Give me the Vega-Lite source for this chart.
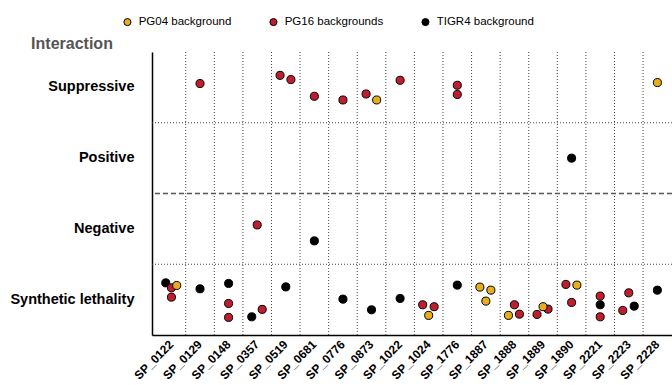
{
  "$schema": "https://vega.github.io/schema/vega-lite/v6.json",
  "width": 520,
  "height": 283,
  "autosize": {"type": "none"},
  "padding": {"left": 152, "top": 52, "right": 0, "bottom": 50},
  "config": {
    "font": "Liberation Sans",
    "view": {"stroke": null},
    "axisX": {"grid": false, "ticks": false, "domainColor": "black", "domainWidth": 1.5, "labelAngle": -45, "labelAlign": "right", "labelBaseline": "middle", "labelPadding": 7, "labelFontSize": 12, "labelFontWeight": "bold", "labelColor": "black", "labelOverlap": false},
    "axisY": {"titleAngle": 0, "titleAlign": "center", "titleBaseline": "middle", "titleX": -80.5, "titleY": -8.7, "titleFontSize": 16, "titleFontWeight": "bold", "titleColor": "#555555", "grid": false, "ticks": false, "domainColor": "black", "domainWidth": 1.5, "labelFontSize": 14.5, "labelFontWeight": "bold", "labelColor": "black", "labelPadding": 18}
  },
  "data": {
    "values": [
      {"gene": "SP_1890", "interaction": "Positive", "strain": "TIGR4 background", "jx": 0, "jy": 0},
      {"gene": "SP_0681", "interaction": "Negative", "strain": "TIGR4 background", "jx": 0, "jy": 0.17},
      {"gene": "SP_0122", "interaction": "Synthetic lethality", "strain": "TIGR4 background", "jx": -0.2, "jy": -0.237},
      {"gene": "SP_0129", "interaction": "Synthetic lethality", "strain": "TIGR4 background", "jx": 0, "jy": -0.153},
      {"gene": "SP_0148", "interaction": "Synthetic lethality", "strain": "TIGR4 background", "jx": 0, "jy": -0.229},
      {"gene": "SP_0357", "interaction": "Synthetic lethality", "strain": "TIGR4 background", "jx": -0.19, "jy": 0.243},
      {"gene": "SP_0519", "interaction": "Synthetic lethality", "strain": "TIGR4 background", "jx": 0, "jy": -0.18},
      {"gene": "SP_0776", "interaction": "Synthetic lethality", "strain": "TIGR4 background", "jx": 0, "jy": -0.007},
      {"gene": "SP_0873", "interaction": "Synthetic lethality", "strain": "TIGR4 background", "jx": 0, "jy": 0.144},
      {"gene": "SP_1022", "interaction": "Synthetic lethality", "strain": "TIGR4 background", "jx": 0, "jy": -0.017},
      {"gene": "SP_1776", "interaction": "Synthetic lethality", "strain": "TIGR4 background", "jx": 0, "jy": -0.205},
      {"gene": "SP_2221", "interaction": "Synthetic lethality", "strain": "TIGR4 background", "jx": 0, "jy": 0.073},
      {"gene": "SP_2223", "interaction": "Synthetic lethality", "strain": "TIGR4 background", "jx": 0.19, "jy": 0.092},
      {"gene": "SP_2228", "interaction": "Synthetic lethality", "strain": "TIGR4 background", "jx": 0, "jy": -0.134},
      {"gene": "SP_0129", "interaction": "Suppressive", "strain": "PG16 backgrounds", "jx": 0, "jy": -0.054},
      {"gene": "SP_0519", "interaction": "Suppressive", "strain": "PG16 backgrounds", "jx": -0.2, "jy": -0.17},
      {"gene": "SP_0519", "interaction": "Suppressive", "strain": "PG16 backgrounds", "jx": 0.18, "jy": -0.11},
      {"gene": "SP_0681", "interaction": "Suppressive", "strain": "PG16 backgrounds", "jx": 0, "jy": 0.126},
      {"gene": "SP_0776", "interaction": "Suppressive", "strain": "PG16 backgrounds", "jx": 0, "jy": 0.178},
      {"gene": "SP_0873", "interaction": "Suppressive", "strain": "PG16 backgrounds", "jx": -0.19, "jy": 0.093},
      {"gene": "SP_1022", "interaction": "Suppressive", "strain": "PG16 backgrounds", "jx": 0, "jy": -0.1},
      {"gene": "SP_1776", "interaction": "Suppressive", "strain": "PG16 backgrounds", "jx": 0, "jy": -0.03},
      {"gene": "SP_1776", "interaction": "Suppressive", "strain": "PG16 backgrounds", "jx": 0, "jy": 0.1},
      {"gene": "SP_0357", "interaction": "Negative", "strain": "PG16 backgrounds", "jx": 0, "jy": -0.056},
      {"gene": "SP_0122", "interaction": "Synthetic lethality", "strain": "PG16 backgrounds", "jx": 0, "jy": -0.167},
      {"gene": "SP_0122", "interaction": "Synthetic lethality", "strain": "PG16 backgrounds", "jx": 0, "jy": -0.035},
      {"gene": "SP_0148", "interaction": "Synthetic lethality", "strain": "PG16 backgrounds", "jx": 0, "jy": 0.054},
      {"gene": "SP_0148", "interaction": "Synthetic lethality", "strain": "PG16 backgrounds", "jx": 0, "jy": 0.251},
      {"gene": "SP_0357", "interaction": "Synthetic lethality", "strain": "PG16 backgrounds", "jx": 0.175, "jy": 0.138},
      {"gene": "SP_1024", "interaction": "Synthetic lethality", "strain": "PG16 backgrounds", "jx": -0.21, "jy": 0.073},
      {"gene": "SP_1024", "interaction": "Synthetic lethality", "strain": "PG16 backgrounds", "jx": 0.19, "jy": 0.1},
      {"gene": "SP_1888", "interaction": "Synthetic lethality", "strain": "PG16 backgrounds", "jx": 0, "jy": 0.073},
      {"gene": "SP_1888", "interaction": "Synthetic lethality", "strain": "PG16 backgrounds", "jx": 0.175, "jy": 0.205},
      {"gene": "SP_1889", "interaction": "Synthetic lethality", "strain": "PG16 backgrounds", "jx": -0.21, "jy": 0.209},
      {"gene": "SP_1889", "interaction": "Synthetic lethality", "strain": "PG16 backgrounds", "jx": 0.175, "jy": 0.134},
      {"gene": "SP_1890", "interaction": "Synthetic lethality", "strain": "PG16 backgrounds", "jx": -0.2, "jy": -0.215},
      {"gene": "SP_1890", "interaction": "Synthetic lethality", "strain": "PG16 backgrounds", "jx": 0, "jy": 0.04},
      {"gene": "SP_2221", "interaction": "Synthetic lethality", "strain": "PG16 backgrounds", "jx": 0, "jy": -0.05},
      {"gene": "SP_2221", "interaction": "Synthetic lethality", "strain": "PG16 backgrounds", "jx": 0, "jy": 0.243},
      {"gene": "SP_2223", "interaction": "Synthetic lethality", "strain": "PG16 backgrounds", "jx": -0.21, "jy": 0.153},
      {"gene": "SP_2223", "interaction": "Synthetic lethality", "strain": "PG16 backgrounds", "jx": 0, "jy": -0.096},
      {"gene": "SP_0873", "interaction": "Suppressive", "strain": "PG04 background", "jx": 0.18, "jy": 0.178},
      {"gene": "SP_2228", "interaction": "Suppressive", "strain": "PG04 background", "jx": 0, "jy": -0.068},
      {"gene": "SP_0122", "interaction": "Synthetic lethality", "strain": "PG04 background", "jx": 0.185, "jy": -0.2},
      {"gene": "SP_1024", "interaction": "Synthetic lethality", "strain": "PG04 background", "jx": 0, "jy": 0.223},
      {"gene": "SP_1887", "interaction": "Synthetic lethality", "strain": "PG04 background", "jx": -0.21, "jy": -0.177},
      {"gene": "SP_1887", "interaction": "Synthetic lethality", "strain": "PG04 background", "jx": 0.175, "jy": -0.134},
      {"gene": "SP_1887", "interaction": "Synthetic lethality", "strain": "PG04 background", "jx": 0, "jy": 0.021},
      {"gene": "SP_1888", "interaction": "Synthetic lethality", "strain": "PG04 background", "jx": -0.21, "jy": 0.223},
      {"gene": "SP_1889", "interaction": "Synthetic lethality", "strain": "PG04 background", "jx": 0, "jy": 0.1},
      {"gene": "SP_1890", "interaction": "Synthetic lethality", "strain": "PG04 background", "jx": 0.185, "jy": -0.205}
    ]
  },
  "layer": [
    {
      "transform": [
        {"aggregate": [], "groupby": ["gene"]},
        {"filter": "datum.gene !== 'SP_0122'"}
      ],
      "mark": {"type": "rule", "strokeDash": [1, 2], "strokeWidth": 1, "color": "#444444"},
      "encoding": {
        "x": {
          "field": "gene", "type": "nominal", "bandPosition": 0,
          "scale": {"type": "band", "domain": ["SP_0122","SP_0129","SP_0148","SP_0357","SP_0519","SP_0681","SP_0776","SP_0873","SP_1022","SP_1024","SP_1776","SP_1887","SP_1888","SP_1889","SP_1890","SP_2221","SP_2223","SP_2228"], "range": [0, 524.8], "paddingInner": 0, "paddingOuter": 0.18},
          "axis": {"title": null}
        }
      }
    },
    {
      "transform": [
        {"aggregate": [], "groupby": ["interaction"]},
        {"filter": "datum.interaction !== 'Suppressive'"}
      ],
      "mark": {"type": "rule"},
      "encoding": {
        "y": {
          "field": "interaction", "type": "nominal", "bandPosition": 0,
          "scale": {"type": "band", "domain": ["Suppressive", "Positive", "Negative", "Synthetic lethality"], "paddingInner": 0, "paddingOuter": 0},
          "axis": {"title": "Interaction"}
        },
        "strokeDash": {"condition": {"test": "datum.interaction === 'Negative'", "value": [5, 3]}, "value": [1, 2]},
        "strokeWidth": {"condition": {"test": "datum.interaction === 'Negative'", "value": 1.5}, "value": 1},
        "color": {"condition": {"test": "datum.interaction === 'Negative'", "value": "#555555"}, "value": "#444444"}
      }
    },
    {
      "mark": {"type": "point", "filled": true, "shape": "circle", "size": 65, "stroke": "black", "strokeWidth": 1, "opacity": 1},
      "encoding": {
        "x": {
          "field": "gene", "type": "nominal",
          "scale": {"type": "band", "domain": ["SP_0122","SP_0129","SP_0148","SP_0357","SP_0519","SP_0681","SP_0776","SP_0873","SP_1022","SP_1024","SP_1776","SP_1887","SP_1888","SP_1889","SP_1890","SP_2221","SP_2223","SP_2228"], "range": [0, 524.8], "paddingInner": 0, "paddingOuter": 0.18},
          "axis": {"title": null}
        },
        "xOffset": {"field": "jx", "type": "quantitative", "scale": {"domain": [-0.5, 0.5], "nice": false, "zero": false}},
        "y": {
          "field": "interaction", "type": "nominal",
          "scale": {"type": "band", "domain": ["Suppressive", "Positive", "Negative", "Synthetic lethality"], "paddingInner": 0, "paddingOuter": 0},
          "axis": {"title": "Interaction"}
        },
        "yOffset": {"field": "jy", "type": "quantitative", "scale": {"domain": [-0.5, 0.5], "nice": false, "zero": false}},
        "color": {
          "field": "strain", "type": "nominal",
          "scale": {"domain": ["PG04 background", "PG16 backgrounds", "TIGR4 background"], "range": ["#E6AD1F", "#BF1E2E", "#000000"]},
          "legend": {"title": null, "orient": "none", "direction": "horizontal", "legendX": -30.3, "legendY": -36, "padding": 0, "symbolType": "circle", "symbolSize": 50, "symbolStrokeColor": "black", "symbolStrokeWidth": 1, "symbolOpacity": 1, "labelFontSize": 11.5, "labelColor": "black", "labelOffset": 5.5, "columnPadding": 36}
        }
      }
    }
  ]
}
